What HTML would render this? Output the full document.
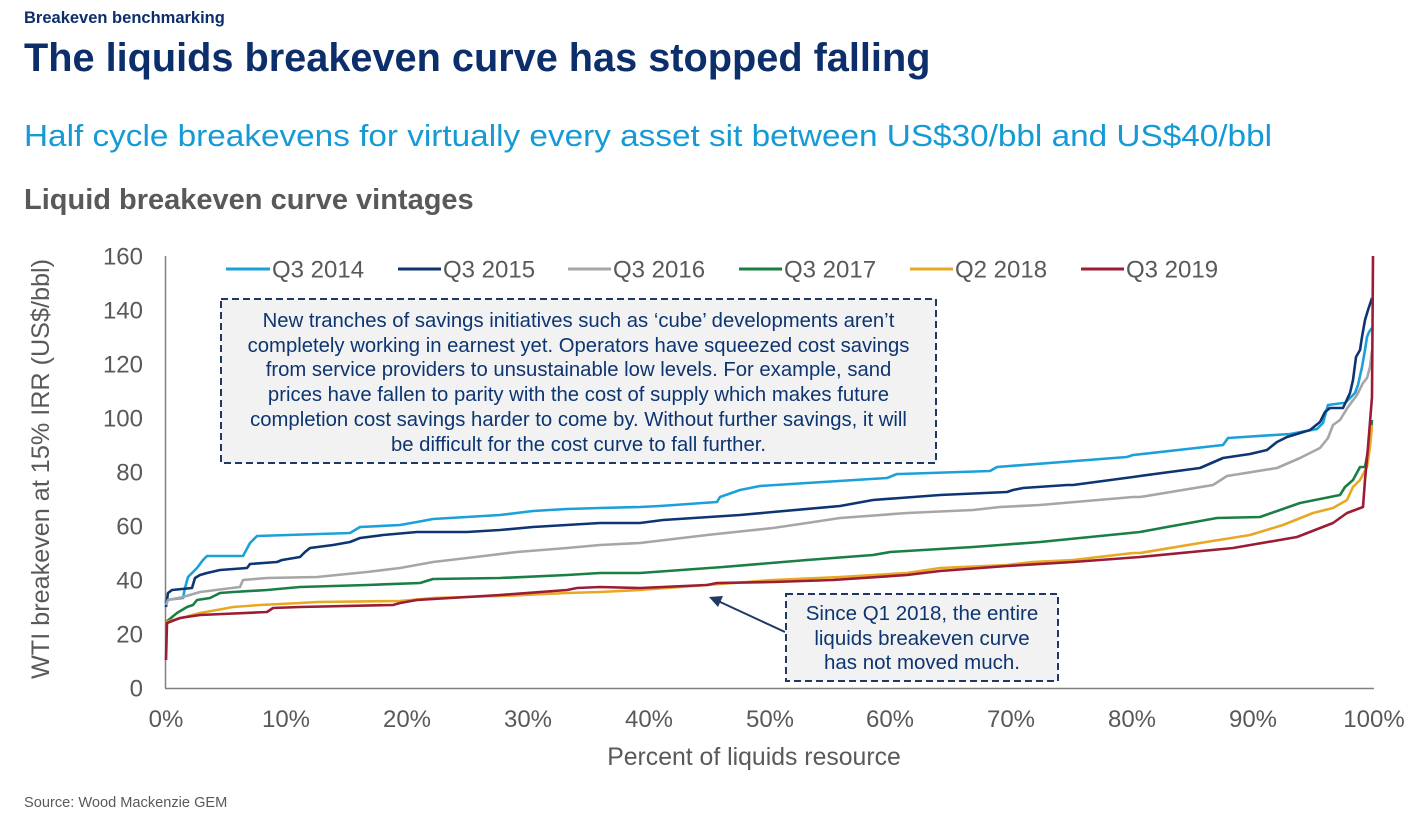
<!DOCTYPE html>
<html>
<head>
<meta charset="utf-8">
<style>
html,body{margin:0;padding:0;background:#fff;}
body{width:1422px;height:821px;overflow:hidden;}
svg{display:block;font-family:"Liberation Sans",Arial,sans-serif;}
</style>
</head>
<body>
<svg width="1422" height="821" viewBox="0 0 1422 821" xmlns="http://www.w3.org/2000/svg">
<rect width="1422" height="821" fill="#ffffff"/>
<!-- Headers -->
<text x="24" y="23" font-size="16.5" font-weight="bold" fill="#0c2f6b">Breakeven benchmarking</text>
<text x="24" y="71" font-size="39.7" font-weight="bold" fill="#0c2f6b">The liquids breakeven curve has stopped falling</text>
<text x="24" y="146" font-size="30.5" fill="#159ad6" textLength="1248" lengthAdjust="spacingAndGlyphs">Half cycle breakevens for virtually every asset sit between US$30/bbl and US$40/bbl</text>
<text x="24" y="209" font-size="29" font-weight="bold" fill="#595959">Liquid breakeven curve vintages</text>

<!-- Axes -->
<line x1="165.5" y1="256" x2="165.5" y2="688" stroke="#808080" stroke-width="1.5"/>
<line x1="165" y1="688.5" x2="1374" y2="688.5" stroke="#808080" stroke-width="1.5"/>

<!-- Y ticks -->
<g font-size="24" fill="#595959" text-anchor="end">
<text x="143" y="696.5">0</text>
<text x="143" y="642.5">20</text>
<text x="143" y="588.5">40</text>
<text x="143" y="534.5">60</text>
<text x="143" y="480.5">80</text>
<text x="143" y="426.5">100</text>
<text x="143" y="372.5">120</text>
<text x="143" y="318.5">140</text>
<text x="143" y="264.5">160</text>
</g>
<!-- X ticks -->
<g font-size="24" fill="#595959" text-anchor="middle">
<text x="166" y="727">0%</text>
<text x="286" y="727">10%</text>
<text x="407" y="727">20%</text>
<text x="528" y="727">30%</text>
<text x="649" y="727">40%</text>
<text x="770" y="727">50%</text>
<text x="890" y="727">60%</text>
<text x="1011" y="727">70%</text>
<text x="1132" y="727">80%</text>
<text x="1253" y="727">90%</text>
<text x="1374" y="727">100%</text>
</g>
<text x="754" y="765" font-size="24.8" fill="#595959" text-anchor="middle">Percent of liquids resource</text>
<text transform="translate(49,469) rotate(-90)" font-size="25.2" fill="#595959" text-anchor="middle">WTI breakeven at 15% IRR (US$/bbl)</text>

<!-- Legend -->
<g stroke-width="3">
<line x1="226" y1="269" x2="270" y2="269" stroke="#1ba0d8"/>
<line x1="398" y1="269" x2="441" y2="269" stroke="#0d3571"/>
<line x1="568" y1="269" x2="611" y2="269" stroke="#a6a6a6"/>
<line x1="739" y1="269" x2="782" y2="269" stroke="#1a7f44"/>
<line x1="910" y1="269" x2="953" y2="269" stroke="#e8a823"/>
<line x1="1081" y1="269" x2="1124" y2="269" stroke="#9b1c34"/>
</g>
<g font-size="24" fill="#595959">
<text x="272" y="277.5">Q3 2014</text>
<text x="443" y="277.5">Q3 2015</text>
<text x="613" y="277.5">Q3 2016</text>
<text x="784" y="277.5">Q3 2017</text>
<text x="955" y="277.5">Q2 2018</text>
<text x="1126" y="277.5">Q3 2019</text>
</g>

<!-- Annotation box 1 -->
<rect x="221" y="299" width="715" height="164" fill="#f2f2f2" stroke="#1f3864" stroke-width="2" stroke-dasharray="7,4"/>
<g font-size="20.3" fill="#0d3571" text-anchor="middle">
<text x="578.5" y="327">New tranches of savings initiatives such as ‘cube’ developments aren’t</text>
<text x="578.5" y="352">completely working in earnest yet. Operators have squeezed cost savings</text>
<text x="578.5" y="376">from service providers to unsustainable low levels. For example, sand</text>
<text x="578.5" y="401">prices have fallen to parity with the cost of supply which makes future</text>
<text x="578.5" y="426">completion cost savings harder to come by. Without further savings, it will</text>
<text x="578.5" y="451">be difficult for the cost curve to fall further.</text>
</g>

<!-- Series -->
<g fill="none" stroke-width="2.6" stroke-linejoin="round">
<polyline stroke="#1ba0d8" points="166,605 166,600 183,598 185,588 188,577 197,568 203,560 207,556 243,556 250,543 257,536 350,533 360,527 400,525 417,522 433,519 500,515 533,511 567,509 600,508 640,507 660,506 717,502 720,497 740,490 760,486 807,483 887,478 897,474 900,474 990,471 997,467 1127,457 1133,455 1223,445 1228,438 1290,434 1317,429 1323,423 1328,405 1343,403 1345,403 1355,393 1358,385 1362,367 1365,350 1367,337 1369,332 1372,328"/>
<polyline stroke="#0d3571" points="166,607 168,593 172,590 192,588 195,578 200,575 207,573 220,570 247,568 250,564 277,562 282,560 300,557 305,552 310,548 333,545 350,542 360,538 383,535 417,532 467,532 500,530 533,527 600,523 640,523 663,520 740,515 773,512 840,506 873,500 900,498 940,495 1007,492 1013,490 1023,488 1067,485 1073,485 1133,477 1140,476 1200,468 1223,458 1250,454 1267,450 1277,442 1287,437 1310,430 1320,422 1325,412 1330,408 1343,408 1350,393 1353,380 1356,357 1360,350 1362,337 1365,320 1368,310 1372,298"/>
<polyline stroke="#a6a6a6" points="166,605 168,600 183,597 200,592 240,587 243,580 267,578 317,577 367,572 400,568 433,562 467,558 517,552 567,548 600,545 640,543 707,535 773,528 807,523 840,518 907,513 973,510 1000,507 1040,505 1133,497 1140,497 1213,485 1227,476 1277,468 1300,458 1320,448 1328,438 1333,425 1340,420 1348,407 1357,395 1363,383 1367,378 1370,367 1372,350"/>
<polyline stroke="#1a7f44" points="166,622 177,613 187,607 193,605 197,600 210,598 220,593 233,592 267,590 300,587 367,585 420,583 433,579 500,578 567,575 600,573 640,573 723,567 807,560 873,555 890,552 973,547 1000,545 1040,542 1080,538 1140,532 1167,527 1217,518 1260,517 1300,503 1340,495 1345,487 1353,480 1360,467 1365,467 1370,440 1372,420"/>
<polyline stroke="#e8a823" points="166,622 200,613 217,610 233,607 260,605 300,603 317,602 400,601 433,598 500,596 567,593 600,592 640,590 707,585 773,580 840,577 907,573 940,568 1007,565 1033,562 1073,560 1133,553 1140,553 1200,543 1250,535 1283,525 1313,513 1333,508 1347,500 1353,487 1360,480 1367,467 1370,447 1372,425"/>
<polyline stroke="#9b1c34" points="166,660 167,623 180,618 200,615 267,612 273,608 300,607 393,605 400,603 417,600 467,597 500,595 567,590 577,588 600,587 640,588 707,585 717,583 773,582 833,580 907,575 940,571 1007,566 1073,562 1140,557 1233,548 1297,537 1333,523 1347,513 1363,507 1365,480 1368,447 1372,397 1373,256"/>
</g>

<!-- Annotation box 2 -->
<rect x="786" y="594" width="272" height="87" fill="#f2f2f2" stroke="#1f3864" stroke-width="2" stroke-dasharray="7,4"/>
<g font-size="20.5" fill="#0d3571" text-anchor="middle">
<text x="922" y="620">Since Q1 2018, the entire</text>
<text x="922" y="645">liquids breakeven curve</text>
<text x="922" y="669">has not moved much.</text>
</g>
<!-- Arrow -->
<line x1="785" y1="632" x2="718" y2="601" stroke="#1f3864" stroke-width="2"/>
<polygon points="709,597 723,596 718,607" fill="#1f3864"/>

<!-- Source -->
<text x="24" y="807" font-size="14.6" fill="#595959">Source: Wood Mackenzie GEM</text>
</svg>
</body>
</html>
